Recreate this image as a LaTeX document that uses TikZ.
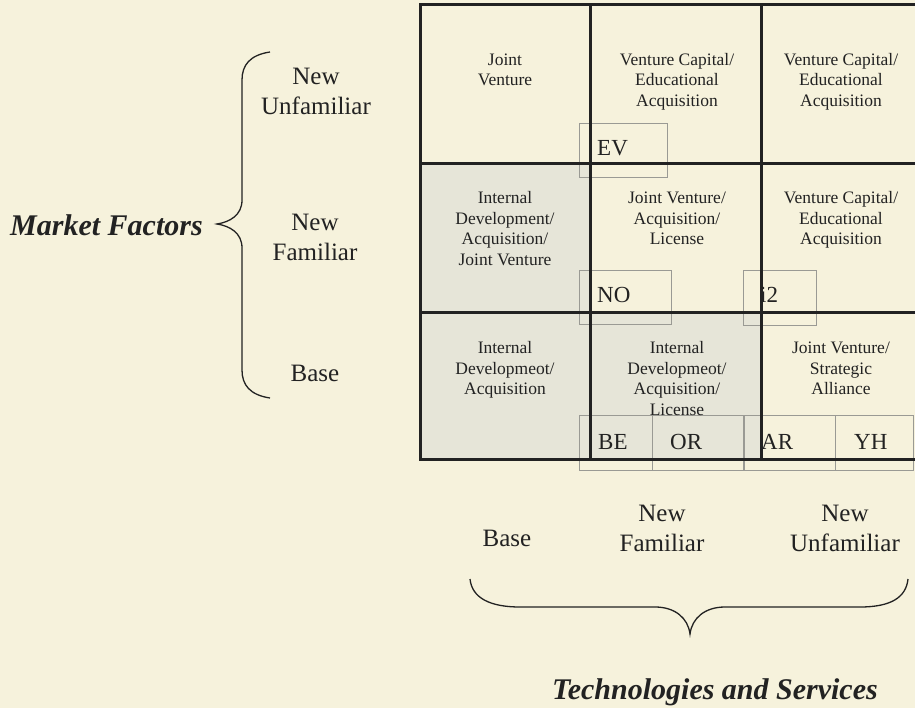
\documentclass[tikz,border=0pt]{standalone}
\usepackage{fontspec}
\setmainfont{Liberation Serif}
\definecolor{paper}{HTML}{F6F2DC}
\definecolor{cellgray}{HTML}{E6E5D8}
\definecolor{ink}{HTML}{222222}
\definecolor{boxline}{HTML}{9A9A94}
\begin{document}
\begin{tikzpicture}[x=1pt,y=-1pt,
  cell/.style={font=\fontsize{17.5}{20.5}\selectfont, align=center, anchor=north, inner sep=0pt, text=ink},
  axislbl/.style={font=\fontsize{25}{30}\selectfont, align=center, inner sep=0pt, text=ink},
  tag/.style={font=\fontsize{23}{27}\selectfont, anchor=base west, inner sep=0pt, text=ink},
  heading/.style={font=\fontsize{30}{36}\selectfont\bfseries\itshape, inner sep=0pt, text=ink},
  gridline/.style={draw=ink, line width=3pt},
  tagbox/.style={draw=boxline, line width=0.9pt},
  bracefig/.style={draw=ink, line width=1.3pt}]
\useasboundingbox (0,0) rectangle (915,708);
\clip (0,0) rectangle (915,708);
\fill[paper] (0,0) rectangle (915,708);
% shaded cells
\fill[cellgray] (420,164) rectangle (590,313);
\fill[cellgray] (420,313) rectangle (590,459);
\fill[cellgray] (590,313) rectangle (761,459);
% tag boxes
\draw[tagbox] (579,123) rectangle (667,177);
\draw[tagbox] (579,270) rectangle (671,324);
\draw[tagbox] (743,270) rectangle (816,325);
\draw[tagbox] (579,415) rectangle (743,470);
\draw[tagbox] (652,415) -- (652,470);
\draw[tagbox] (744,415) rectangle (913,470);
\draw[tagbox] (835,415) -- (835,470);
% grid
\draw[gridline] (420,5) rectangle (930,459);
\draw[gridline] (590,5) -- (590,459);
\draw[gridline] (761,5) -- (761,459);
\draw[gridline] (420,164) -- (930,164);
\draw[gridline] (420,313) -- (930,313);
% cell texts
\node[cell] (c11) at (505,50.8) {\strut Joint\\Venture};
\node[cell] (c12) at (677,50.8) {\strut Venture Capital/\\Educational\\Acquisition};
\node[cell] (c13) at (841,50.8) {\strut Venture Capital/\\Educational\\Acquisition};
\node[cell] (c21) at (505,189) {\strut Internal\\Development/\\Acquisition/\\Joint Venture};
\node[cell] (c22) at (677,189) {\strut Joint Venture/\\Acquisition/\\License};
\node[cell] (c23) at (841,189) {\strut Venture Capital/\\Educational\\Acquisition};
\node[cell] (c31) at (505,339) {\strut Internal\\Developmeot/\\Acquisition};
\node[cell] (c32) at (677,339) {\strut Internal\\Developmeot/\\Acquisition/\\License};
\node[cell] (c33) at (841,339) {\strut Joint Venture/\\Strategic\\Alliance};
% tags
\node[tag] (ev) at (597,156) {EV};
\node[tag] (no) at (597,303) {NO};
\node[tag] (i2) at (760,303) {i2};
\node[tag] (be) at (598,449) {BE};
\node[tag] (or) at (670,449) {OR};
\node[tag] (ar) at (761,449) {AR};
\node[tag] (yh) at (854,449) {YH};
% left axis
\node[axislbl, anchor=north] (lnu) at (316,63) {\strut New\\Unfamiliar};
\node[axislbl, anchor=north] (lnf) at (315,209) {\strut New\\Familiar};
\node[axislbl, anchor=base] (lb) at (315,381) {Base};
\node[heading, anchor=base west] (mf) at (10,236) {Market Factors};
\draw[bracefig] (270,52) .. controls (250,55) and (242,65) .. (242,80) -- (242,200)
  .. controls (242,215) and (230,222) .. (217,224)
  .. controls (230,226) and (242,233) .. (242,248) -- (242,370)
  .. controls (242,385) and (250,395) .. (270,398);
% bottom axis
\node[axislbl, anchor=base] (bb) at (507,546) {Base};
\node[axislbl, anchor=north] (bnf) at (662,500) {\strut New\\Familiar};
\node[axislbl, anchor=north] (bnu) at (845,500) {\strut New\\Unfamiliar};
\draw[bracefig] (470,579) .. controls (472,598) and (490,607) .. (520,607) -- (655,607)
  .. controls (675,607) and (688,618) .. (690,634)
  .. controls (692,618) and (705,607) .. (725,607) -- (860,607)
  .. controls (890,607) and (906,598) .. (908,579);
\node[heading, anchor=base] (ts) at (715,699) {Technologies and Services};
\end{tikzpicture}
\end{document}
